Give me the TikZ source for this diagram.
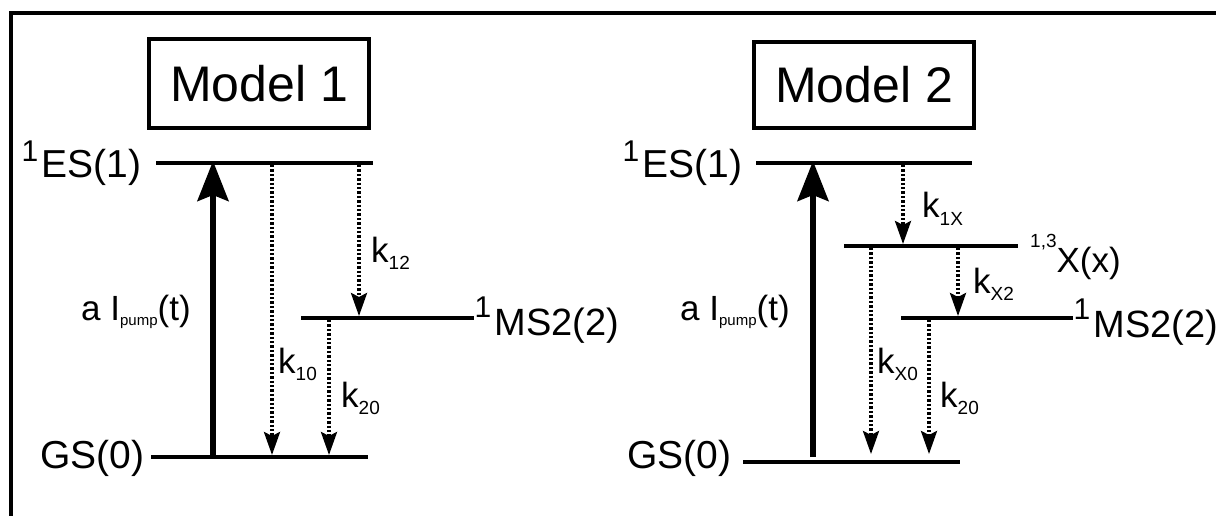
\documentclass[tikz,border=0pt]{standalone}
\usepackage{fontspec}
\setmainfont{Liberation Sans}
\usetikzlibrary{arrows.meta}
\newcommand{\lblfont}{\fontsize{35pt}{35pt}\selectfont}
\newcommand{\stfont}{\fontsize{39pt}{39pt}\selectfont}
\newcommand{\ksub}[1]{\raisebox{-7pt}{\fontsize{19pt}{19pt}\selectfont #1}}
\newcommand{\psub}[1]{\raisebox{-5pt}{\fontsize{15pt}{15pt}\selectfont #1}}
\newcommand{\supone}[1]{\raisebox{#1}{\fontsize{30pt}{30pt}\selectfont 1}\kern3pt}
\tikzset{
  lvl/.style={line width=4pt},
  pump/.style={line width=5.5pt,-{Stealth[length=40pt,width=31pt,inset=6pt]}},
  decay/.style={line width=3.3pt,dash pattern=on 2.4pt off 2pt,-{Stealth[length=23pt,width=16pt,inset=4pt]}},
  txt/.style={anchor=base west,inner sep=0pt,font=\lblfont},
  sttxt/.style={anchor=base west,inner sep=0pt,font=\stfont},
  modelbox/.style={draw,line width=3.5pt,minimum width=220pt,inner sep=0pt,font=\fontsize{50pt}{50pt}\selectfont}
}
\begin{document}
\begin{tikzpicture}[x=1pt,y=-1pt]
\useasboundingbox (0,0) rectangle (1216,516);
% frame
\coordinate (fb) at (11,516);
\coordinate (fc) at (11,13);
\coordinate (fr) at (1216,13);
\draw[line width=4pt] (fb) -- (fc) -- (fr);

%% ---------------- Model 1 ----------------
\node[modelbox,minimum height=89pt] (m1) at (259,83.5) {Model 1};
% levels
\coordinate (es1L) at (156,163); \coordinate (es1R) at (373,163);
\coordinate (gs1L) at (151,457); \coordinate (gs1R) at (368,457);
\coordinate (ms1L) at (301,318); \coordinate (ms1R) at (474,318);
\draw[lvl] (es1L) -- (es1R);
\draw[lvl] (gs1L) -- (gs1R);
\draw[lvl] (ms1L) -- (ms1R);
% arrows
\coordinate (p1a) at (213,455); \coordinate (p1b) at (213,161);
\draw[pump] (p1a) -- (p1b);
\coordinate (k10a) at (272,165); \coordinate (k10b) at (272,455);
\draw[decay] (k10a) -- (k10b);
\coordinate (k12a) at (359,165); \coordinate (k12b) at (359,316);
\draw[decay] (k12a) -- (k12b);
\coordinate (k20a) at (329,320); \coordinate (k20b) at (329,455);
\draw[decay] (k20a) -- (k20b);
% labels
\node[sttxt] (es1t) at (21.5,178) {\supone{16pt}ES(1)};
\node[sttxt] (gs1t) at (40,468) {GS(0)};
\node[sttxt,font=\fontsize{38pt}{38pt}\selectfont] (ms1t) at (474.5,335) {\supone{18pt}MS2(2)};
\node[txt] (pl1) at (81,320) {a I\psub{pump}(t)};
\node[txt] (k12t) at (371,262) {k\ksub{12}};
\node[txt] (k10t) at (278,373) {k\ksub{10}};
\node[txt] (k20t) at (341,407) {k\ksub{20}};

%% ---------------- Model 2 ----------------
\node[modelbox,minimum height=86pt] (m2) at (864,85) {Model 2};
\coordinate (es2L) at (756,163); \coordinate (es2R) at (972,163);
\coordinate (gs2L) at (743,462); \coordinate (gs2R) at (960,462);
\coordinate (x2L) at (844,246); \coordinate (x2R) at (1018,246);
\coordinate (ms2L) at (901,318); \coordinate (ms2R) at (1073,318);
\draw[lvl] (es2L) -- (es2R);
\draw[lvl] (gs2L) -- (gs2R);
\draw[lvl] (x2L) -- (x2R);
\draw[lvl] (ms2L) -- (ms2R);
\coordinate (p2a) at (813,457); \coordinate (p2b) at (813,161);
\draw[pump] (p2a) -- (p2b);
\coordinate (k1xa) at (903,165); \coordinate (k1xb) at (903,244);
\draw[decay] (k1xa) -- (k1xb);
\coordinate (kx0a) at (871,248); \coordinate (kx0b) at (871,454);
\draw[decay] (kx0a) -- (kx0b);
\coordinate (kx2a) at (958,248); \coordinate (kx2b) at (958,316);
\draw[decay] (kx2a) -- (kx2b);
\coordinate (k202a) at (929,320); \coordinate (k202b) at (929,454);
\draw[decay] (k202a) -- (k202b);
\node[sttxt] (es2t) at (622.5,178) {\supone{16pt}ES(1)};
\node[sttxt] (gs2t) at (627,468) {GS(0)};
\node[txt] (x2t) at (1030,272) {\raisebox{25pt}{\fontsize{19pt}{19pt}\selectfont 1,3}X(x)};
\node[sttxt,font=\fontsize{38pt}{38pt}\selectfont] (ms2t) at (1073.5,337) {\supone{18pt}MS2(2)};
\node[txt] (pl2) at (680,320) {a I\psub{pump}(t)};
\node[txt] (k1xt) at (922,218) {k\ksub{1X}};
\node[txt] (kx2t) at (973,293) {k\ksub{X2}};
\node[txt] (kx0t) at (877,373) {k\ksub{X0}};
\node[txt] (k202t) at (940,407) {k\ksub{20}};
\end{tikzpicture}
\end{document}
